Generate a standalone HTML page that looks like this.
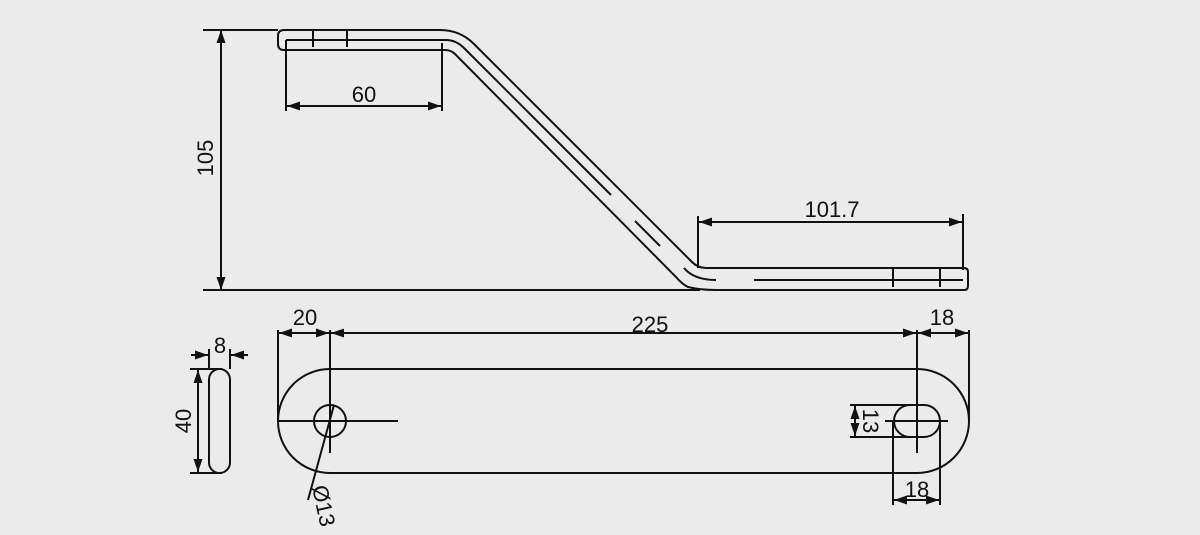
<!DOCTYPE html>
<html><head><meta charset="utf-8"><style>
html,body{margin:0;padding:0;background:#ebebeb;}
svg{display:block;}
text{font-family:"Liberation Sans",Arial,sans-serif;font-size:22px;fill:#111;}
</style></head><body>
<svg width="1200" height="535" viewBox="0 0 1200 535" xmlns="http://www.w3.org/2000/svg">
<defs>
<marker id="a" viewBox="0 0 13 9" refX="13" refY="4.5" markerWidth="13" markerHeight="9" markerUnits="userSpaceOnUse" orient="auto-start-reverse"><path d="M0,0L13,4.5L0,9z" fill="#111"/></marker>
</defs>
<g stroke="#111" stroke-width="2" fill="none">
<path d="M284,30 L440,30 Q460,30 474,44 L692,262 Q698,268 706,268 L964,268 Q968,268 968,272 L968,286 Q968,290 964,290 L716,290 Q700,290 688,287 Q682,284 676,277 L455,54 Q451,50 445,50 L284,50 Q278,50 278,44 L278,36 Q278,30 284,30 Z"/>
<path d="M286,40 L446,40 Q456,40 464,48 L611,195"/>
<path d="M635,221 L660,246"/>
<path d="M684,268 Q694,280 716,280"/>
<path d="M754,280 L963,280"/>
<path d="M313,30 V47 M347,30 V47 M893,268 V287 M940,268 V287"/>
<path d="M203,30 H278 M203,290 H700"/>
<path d="M221,30 V290" marker-start="url(#a)" marker-end="url(#a)"/>
<path d="M286,40 V111 M442,43 V111"/>
<path d="M287,106 H441" marker-start="url(#a)" marker-end="url(#a)"/>
<path d="M698,216 V268 M963,214 V270"/>
<path d="M699,222 H962" marker-start="url(#a)" marker-end="url(#a)"/>
<path d="M330,369 H917 A52,52 0 0 1 917,473 H330 A52,52 0 0 1 330,369 Z"/>
<circle cx="330" cy="421" r="16"/>
<path d="M278,421 H398 M330,330 V453"/>
<path d="M278,330 V421 M969,330 V421 M917,330 V453"/>
<path d="M279,333 H329" marker-start="url(#a)" marker-end="url(#a)"/>
<path d="M331,333 H916" marker-start="url(#a)" marker-end="url(#a)"/>
<path d="M918,333 H968" marker-start="url(#a)" marker-end="url(#a)"/>
<rect x="894" y="405" width="46" height="32" rx="16"/>
<path d="M885,421 H948"/>
<path d="M850,405 H910 M850,437 H910"/>
<path d="M855,406 V436" marker-start="url(#a)" marker-end="url(#a)"/>
<path d="M893,421 V505 M940,421 V505"/>
<path d="M894,500 H939" marker-start="url(#a)" marker-end="url(#a)"/>
<path d="M334,405 L308,500"/>
<rect x="209" y="369" width="21" height="104" rx="10.5"/>
<path d="M209,349 V369 M230,349 V369"/>
<path d="M191,355 H208" marker-end="url(#a)"/>
<path d="M248,355 H231" marker-end="url(#a)"/>
<path d="M190,369 H222 M190,473 H222"/>
<path d="M198,370 V472" marker-start="url(#a)" marker-end="url(#a)"/>
</g>
<g>
<text x="364" y="102" text-anchor="middle">60</text>
<text x="832" y="217" text-anchor="middle">101.7</text>
<text transform="translate(213,158) rotate(-90)" text-anchor="middle">105</text>
<text x="305" y="325" text-anchor="middle">20</text>
<text x="650" y="332" text-anchor="middle">225</text>
<text x="942" y="325" text-anchor="middle">18</text>
<text x="220" y="353" text-anchor="middle">8</text>
<text transform="translate(191,421) rotate(-90)" text-anchor="middle">40</text>
<text transform="translate(863,421) rotate(90)" text-anchor="middle">13</text>
<text x="917" y="497" text-anchor="middle">18</text>
<text transform="translate(312,487) rotate(78)">Ø13</text>
</g>
</svg>
</body></html>
